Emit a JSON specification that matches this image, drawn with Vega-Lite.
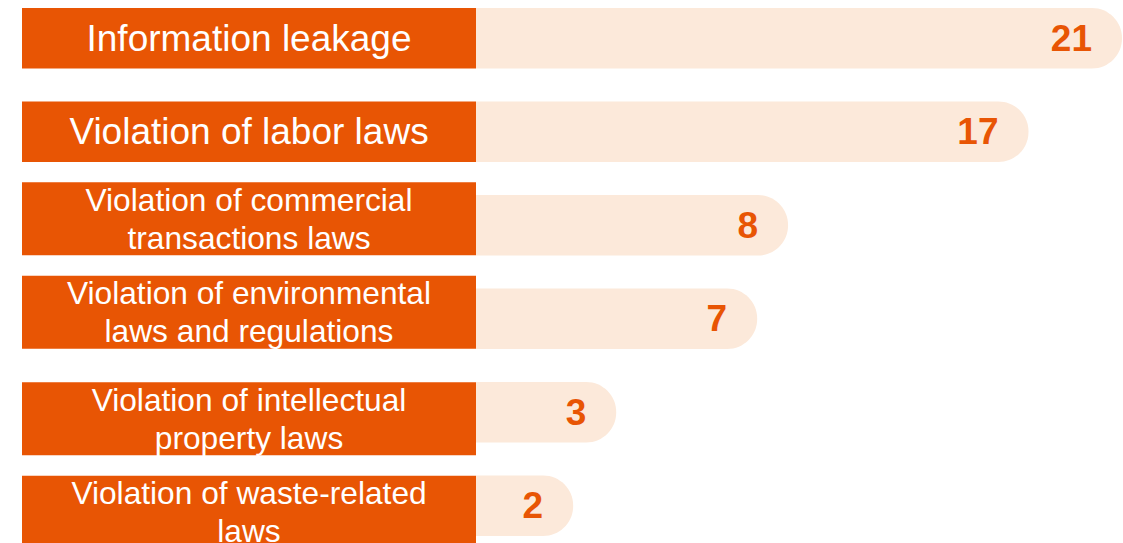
{
  "$schema": "https://vega.github.io/schema/vega-lite/v6.json",
  "padding": {"left": 22, "top": 8, "right": 0, "bottom": 0},
  "background": "white",
  "config": {"view": {"stroke": null}, "font": "Liberation Sans"},
  "data": {"values": [
    {"label": "Information leakage", "value": 21},
    {"label": "Violation of labor laws", "value": 17},
    {"label": "Violation of commercial\ntransactions laws", "value": 8},
    {"label": "Violation of environmental\nlaws and regulations", "value": 7},
    {"label": "Violation of intellectual\nproperty laws", "value": 3},
    {"label": "Violation of waste-related\nlaws", "value": 2}
  ]},
  "spacing": 0,
  "bounds": "flush",
  "resolve": {"scale": {"x": "independent", "y": "shared"}},
  "hconcat": [
    {
      "width": 454,
      "height": 528,
      "encoding": {
        "y": {"field": "label", "type": "nominal", "sort": {"field": "value", "op": "sum", "order": "descending"}, "axis": null, "scale": {"paddingInner": 0.352, "paddingOuter": 0}}
      },
      "layer": [
        {
          "mark": {"type": "bar", "color": "#E85504", "yOffset": {"expr": "indexof(datum.label, '\\n') < 0 ? 0 : (datum.value > 5 ? -6.5 : 6.5)"}},
          "encoding": {
            "x": {"datum": 0, "type": "quantitative", "scale": {"domain": [0, 1], "nice": false}, "axis": null},
            "x2": {"datum": 1},
            "size": {"condition": {"test": "indexof(datum.label, '\\n') >= 0", "value": 73}, "value": 60.5}
          }
        },
        {
          "mark": {"type": "text", "color": "white", "lineBreak": "\n", "lineHeight": 38, "align": "center", "baseline": "middle", "yOffset": {"expr": "indexof(datum.label, '\\n') < 0 ? 1.5 : (datum.value > 5 ? -24.5 : -11.5)"}},
          "encoding": {
            "x": {"datum": 0.5, "type": "quantitative"},
            "text": {"field": "label", "type": "nominal"},
            "size": {"condition": {"test": "indexof(datum.label, '\\n') >= 0", "value": 31.7}, "value": 37}
          }
        }
      ]
    },
    {
      "width": 646,
      "height": 528,
      "encoding": {
        "y": {"field": "label", "type": "nominal", "sort": {"field": "value", "op": "sum", "order": "descending"}, "axis": null, "scale": {"paddingInner": 0.352, "paddingOuter": 0}},
        "x": {"field": "value", "type": "quantitative", "scale": {"type": "pow", "exponent": 0.7, "domain": [0.29, 21], "nice": false, "zero": false}, "axis": null}
      },
      "layer": [
        {"mark": {"type": "bar", "color": "#FCE9DA", "cornerRadiusTopRight": 30, "cornerRadiusBottomRight": 30}, "encoding": {"x2": {"datum": 0.29}}},
        {
          "mark": {"type": "text", "color": "#E85504", "fontWeight": "bold", "fontSize": 37, "align": "right", "baseline": "middle", "dx": -30, "dy": 1.5},
          "encoding": {"text": {"field": "value", "type": "quantitative"}}
        }
      ]
    }
  ]
}
